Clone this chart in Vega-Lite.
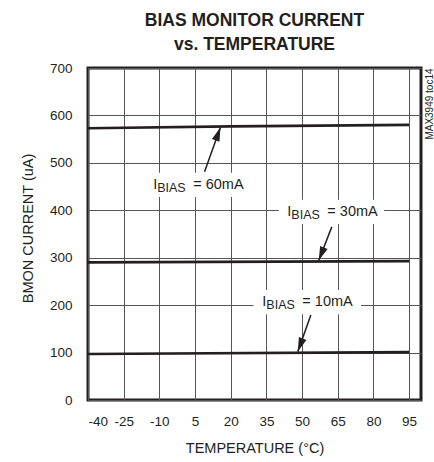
{
  "$schema": "https://vega.github.io/schema/vega-lite/v6.json",
  "width": 333,
  "height": 332,
  "autosize": "none",
  "padding": {"left": 88, "top": 68, "right": 13, "bottom": 62},
  "config": {
    "font": "Liberation Sans",
    "view": {"stroke": "#231f20", "strokeWidth": 3},
    "axis": {"labelColor": "#231f20", "titleColor": "#231f20", "gridColor": "#555555", "gridWidth": 1, "domain": false, "ticks": false, "titleFontWeight": "normal", "labelOverlap": false}
  },
  "title": {
    "text": ["BIAS MONITOR CURRENT", "vs. TEMPERATURE"],
    "fontSize": 17.5,
    "fontWeight": "bold",
    "color": "#231f20",
    "lineHeight": 24,
    "anchor": "middle",
    "offset": 8
  },
  "datasets": {
    "lines": [
      {"s": "60", "t": -40, "v": 573}, {"s": "60", "t": 20, "v": 577}, {"s": "60", "t": 95, "v": 580},
      {"s": "30", "t": -40, "v": 290}, {"s": "30", "t": 95, "v": 293},
      {"s": "10", "t": -40, "v": 97}, {"s": "10", "t": 95, "v": 101}
    ],
    "labels": [
      {"s": "60", "t": -12.6, "v": 453.6, "rest": "= 60mA", "t1": 9, "v1": 481, "t2": 15.7, "v2": 575, "ang": 20, "rx": -14.7, "rx2": 27.5, "ry": 428, "ry2": 479},
      {"s": "30", "t": 43.8, "v": 396.6, "rest": "= 30mA", "t1": 62.5, "v1": 365, "t2": 57, "v2": 294, "ang": 201.5, "rx": 40.2, "rx2": 84.5, "ry": 371, "ry2": 422},
      {"s": "10", "t": 33.3, "v": 206.8, "rest": "= 10mA", "t1": 53.7, "v1": 179, "t2": 48.2, "v2": 102, "ang": 200.4, "rx": 29.6, "rx2": 74.8, "ry": 181, "ry2": 232}
    ],
    "note": [{"t": 103.6, "v": 624, "txt": "MAX3949 toc14"}]
  },
  "layer": [
    {
      "data": {"name": "lines"},
      "mark": {"type": "line", "color": "#231f20", "strokeWidth": 2.7},
      "encoding": {
        "x": {"field": "t", "type": "quantitative", "scale": {"domain": [-40, 100], "nice": false},
          "axis": {"values": [-40, -25, -10, 5, 20, 35, 50, 65, 80, 95], "tickCount": 20, "labelExpr": "datum.value < 0 ? '-' + abs(datum.value) : '' + datum.value", "title": "TEMPERATURE (°C)", "labelFontSize": 13.5, "labelPadding": 14, "titleFontSize": 14.5, "titleY": 48, "titleBaseline": "middle"}},
        "y": {"field": "v", "type": "quantitative", "scale": {"domain": [0, 700], "nice": false},
          "axis": {"values": [0, 100, 200, 300, 400, 500, 600, 700], "tickCount": 20, "title": "BMON CURRENT (uA)", "labelFontSize": 13.5, "labelPadding": 16, "titleFontSize": 14.5, "titleX": -60, "titleY": 160, "titleBaseline": "middle", "titleAngle": 270}},
        "detail": {"field": "s"}
      }
    },
    {
      "data": {"name": "labels"},
      "mark": {"type": "rect", "fill": "white"},
      "encoding": {
        "x": {"field": "rx", "type": "quantitative"},
        "x2": {"field": "rx2"},
        "y": {"field": "ry", "type": "quantitative"},
        "y2": {"field": "ry2"}
      }
    },
    {
      "data": {"name": "labels"},
      "mark": {"type": "rule", "color": "#231f20", "strokeWidth": 1.5},
      "encoding": {
        "x": {"field": "t1", "type": "quantitative"},
        "y": {"field": "v1", "type": "quantitative"},
        "x2": {"field": "t2"},
        "y2": {"field": "v2"}
      }
    },
    {
      "data": {"name": "labels"},
      "mark": {"type": "point", "shape": "M0,0L-0.8,2.8L0.8,2.8Z", "filled": true, "color": "#231f20", "size": 100, "opacity": 1},
      "encoding": {
        "x": {"field": "t2", "type": "quantitative"},
        "y": {"field": "v2", "type": "quantitative"},
        "angle": {"field": "ang", "type": "quantitative", "scale": null}
      }
    },
    {
      "data": {"name": "labels"},
      "mark": {"type": "text", "text": "I", "align": "left", "baseline": "middle", "fontSize": 14.5, "color": "#231f20"},
      "encoding": {
        "x": {"field": "t", "type": "quantitative"},
        "y": {"field": "v", "type": "quantitative"}
      }
    },
    {
      "data": {"name": "labels"},
      "mark": {"type": "text", "text": "BIAS", "align": "left", "baseline": "middle", "fontSize": 12.5, "dx": 4, "dy": 3, "color": "#231f20"},
      "encoding": {
        "x": {"field": "t", "type": "quantitative"},
        "y": {"field": "v", "type": "quantitative"}
      }
    },
    {
      "data": {"name": "labels"},
      "mark": {"type": "text", "align": "left", "baseline": "middle", "fontSize": 14.5, "dx": 40, "color": "#231f20"},
      "encoding": {
        "x": {"field": "t", "type": "quantitative"},
        "y": {"field": "v", "type": "quantitative"},
        "text": {"field": "rest"}
      }
    },
    {
      "data": {"name": "note"},
      "mark": {"type": "text", "angle": 270, "align": "center", "baseline": "middle", "fontSize": 10, "color": "#231f20"},
      "encoding": {
        "x": {"field": "t", "type": "quantitative"},
        "y": {"field": "v", "type": "quantitative"},
        "text": {"field": "txt"}
      }
    }
  ]
}
